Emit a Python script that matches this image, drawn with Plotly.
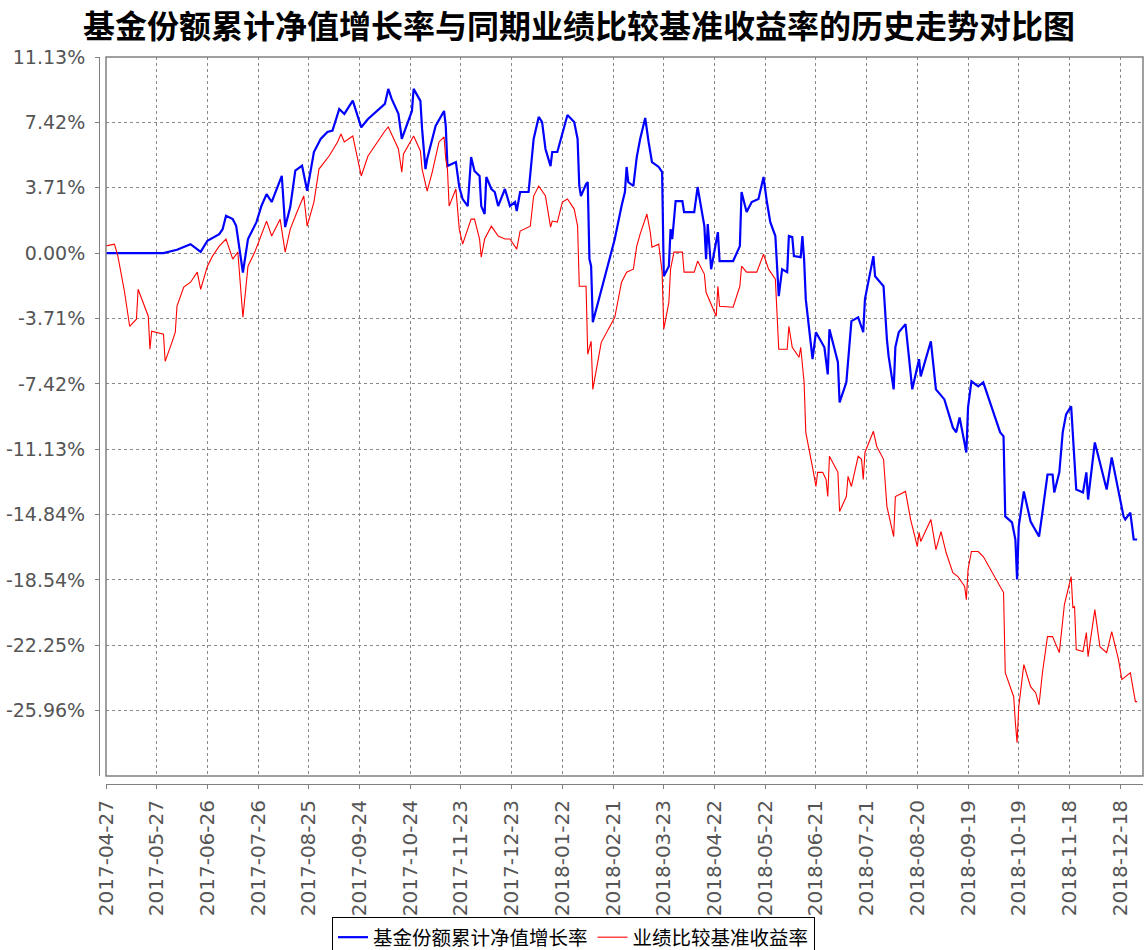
import plotly.graph_objects as go

title_text = "基金份额累计净值增长率与同期业绩比较基准收益率的历史走势对比图"
fund_name = "基金份额累计净值增长率"
bench_name = "业绩比较基准收益率"

fund_dates = [
    "2017-04-27", "2017-05-11", "2017-05-31", "2017-06-08", "2017-06-16", "2017-06-22", "2017-06-26",
    "2017-07-03", "2017-07-05", "2017-07-07", "2017-07-11", "2017-07-13", "2017-07-17", "2017-07-20",
    "2017-07-25", "2017-07-28", "2017-07-31", "2017-08-03", "2017-08-07", "2017-08-09", "2017-08-11",
    "2017-08-14", "2017-08-17", "2017-08-21", "2017-08-24", "2017-08-28", "2017-09-01", "2017-09-05",
    "2017-09-08", "2017-09-12", "2017-09-15", "2017-09-18", "2017-09-20", "2017-09-25", "2017-09-29",
    "2017-10-09", "2017-10-11", "2017-10-13", "2017-10-17", "2017-10-19", "2017-10-23", "2017-10-25",
    "2017-10-26", "2017-10-30", "2017-10-31", "2017-11-02", "2017-11-03", "2017-11-08", "2017-11-13",
    "2017-11-14", "2017-11-15", "2017-11-20", "2017-11-22", "2017-11-24", "2017-11-27", "2017-11-29",
    "2017-12-01", "2017-12-04", "2017-12-05", "2017-12-07", "2017-12-08", "2017-12-11", "2017-12-13",
    "2017-12-15", "2017-12-19", "2017-12-22", "2017-12-25", "2017-12-26", "2017-12-28", "2018-01-02",
    "2018-01-05", "2018-01-08", "2018-01-10", "2018-01-12", "2018-01-15", "2018-01-16", "2018-01-19",
    "2018-01-22", "2018-01-25", "2018-01-29", "2018-01-31", "2018-02-01", "2018-02-02", "2018-02-05",
    "2018-02-06", "2018-02-07", "2018-02-08", "2018-02-09", "2018-02-22", "2018-02-26", "2018-02-28",
    "2018-03-01", "2018-03-02", "2018-03-05", "2018-03-07", "2018-03-09", "2018-03-12", "2018-03-14",
    "2018-03-16", "2018-03-20", "2018-03-22", "2018-03-23", "2018-03-26", "2018-03-27", "2018-03-28",
    "2018-03-30", "2018-04-03", "2018-04-04", "2018-04-10", "2018-04-12", "2018-04-16", "2018-04-17",
    "2018-04-18", "2018-04-20", "2018-04-24", "2018-04-25", "2018-05-03", "2018-05-07", "2018-05-08",
    "2018-05-11", "2018-05-14", "2018-05-18", "2018-05-21", "2018-05-23", "2018-05-25", "2018-05-28",
    "2018-05-30", "2018-06-01", "2018-06-04", "2018-06-05", "2018-06-07", "2018-06-08", "2018-06-12",
    "2018-06-13", "2018-06-14", "2018-06-15", "2018-06-19", "2018-06-21", "2018-06-26", "2018-06-28",
    "2018-06-29", "2018-07-04", "2018-07-05", "2018-07-09", "2018-07-11", "2018-07-12", "2018-07-16",
    "2018-07-19", "2018-07-20", "2018-07-25", "2018-07-26", "2018-07-31", "2018-08-02", "2018-08-03",
    "2018-08-06", "2018-08-07", "2018-08-09", "2018-08-13", "2018-08-17", "2018-08-21", "2018-08-22",
    "2018-08-28", "2018-08-31", "2018-09-05", "2018-09-10", "2018-09-12", "2018-09-14", "2018-09-17",
    "2018-09-18", "2018-09-19", "2018-09-21", "2018-09-25", "2018-09-28", "2018-10-08", "2018-10-10",
    "2018-10-11", "2018-10-15", "2018-10-17", "2018-10-18", "2018-10-19", "2018-10-22", "2018-10-26",
    "2018-10-31", "2018-11-02", "2018-11-05", "2018-11-08", "2018-11-09", "2018-11-12", "2018-11-14",
    "2018-11-16", "2018-11-19", "2018-11-20", "2018-11-22", "2018-11-26", "2018-11-28", "2018-11-29",
    "2018-12-03", "2018-12-06", "2018-12-10", "2018-12-13", "2018-12-17", "2018-12-20", "2018-12-21",
    "2018-12-24", "2018-12-26", "2018-12-28",
]
fund_values = [
    0.00, 0.00, 0.00, 0.19, 0.51, 0.07, 0.70,
    1.08, 1.36, 2.12, 1.93, 1.55, -1.10, 0.80,
    1.76, 2.69, 3.35, 2.90, 3.82, 4.39, 1.48,
    2.61, 4.68, 4.96, 3.54, 5.74, 6.48, 6.88,
    6.95, 8.18, 7.90, 8.37, 8.65, 7.14, 7.61,
    8.47, 9.32, 8.75, 7.90, 6.48, 7.61, 8.07,
    9.32, 8.64, 7.05, 4.77, 5.34, 7.22, 8.07,
    7.22, 4.94, 5.17, 3.75, 3.07, 2.67, 5.45,
    4.66, 4.38, 2.67, 2.22, 4.32, 3.64, 3.47,
    2.67, 3.64, 2.67, 2.90, 2.39, 3.47, 3.47,
    6.48, 7.73, 7.44, 5.91, 4.94, 5.74, 5.74,
    6.76, 7.84, 7.44, 6.48, 3.81, 3.24, 3.92,
    4.03, -0.34, -0.74, -3.92, 0.80, 2.67, 3.47,
    4.89, 4.03, 3.81, 5.45, 6.48, 7.67, 6.31,
    5.17, 4.89, 4.60, -1.31, -0.74, 1.36, 0.80,
    2.95, 2.95, 2.33, 2.33, 3.75, 1.53, -0.34,
    1.65, -0.91, 1.19, -0.45, -0.45, 0.40, 3.47,
    2.33, 2.90, 3.07, 4.32, 2.90, 1.76, 0.97,
    -2.44, -0.91, -1.08, 0.97, 0.91, -0.17, -0.23,
    0.97, -0.34, -2.61, -6.02, -4.49, -5.34, -6.88,
    -4.32, -6.19, -8.47, -7.33, -4.89, -3.86, -3.64,
    -4.49, -2.61, -0.17, -1.31, -1.88, -4.89, -5.85,
    -7.73, -5.34, -4.49, -4.03, -7.73, -6.02, -6.99,
    -5.00, -7.73, -8.30, -9.89, -10.17, -9.32, -10.97,
    -11.31, -8.75, -7.27, -7.56, -7.33, -10.17, -10.40,
    -14.94, -15.28, -16.25, -18.52, -15.51, -13.52, -15.23,
    -16.08, -14.72, -12.56, -12.56, -13.58, -12.44, -10.17,
    -9.15, -8.69, -10.28, -13.41, -13.58, -12.44, -13.98,
    -10.74, -11.88, -13.41, -11.59, -13.41, -14.94, -15.11,
    -14.72, -16.25, -16.25,
]

bench_dates = [
    "2017-04-27", "2017-05-02", "2017-05-04", "2017-05-08", "2017-05-11", "2017-05-15", "2017-05-16",
    "2017-05-22", "2017-05-23", "2017-05-24", "2017-05-31", "2017-06-01", "2017-06-05", "2017-06-07",
    "2017-06-08", "2017-06-12", "2017-06-16", "2017-06-20", "2017-06-22", "2017-06-26", "2017-06-29",
    "2017-07-03", "2017-07-07", "2017-07-11", "2017-07-14", "2017-07-17", "2017-07-20", "2017-07-24",
    "2017-07-27", "2017-07-31", "2017-08-03", "2017-08-08", "2017-08-11", "2017-08-14", "2017-08-18",
    "2017-08-22", "2017-08-24", "2017-08-28", "2017-08-31", "2017-09-06", "2017-09-11", "2017-09-13",
    "2017-09-15", "2017-09-20", "2017-09-25", "2017-09-29", "2017-10-09", "2017-10-11", "2017-10-17",
    "2017-10-19", "2017-10-20", "2017-10-26", "2017-10-30", "2017-10-31", "2017-11-03", "2017-11-06",
    "2017-11-10", "2017-11-13", "2017-11-14", "2017-11-15", "2017-11-16", "2017-11-20", "2017-11-22",
    "2017-11-24", "2017-11-29", "2017-12-01", "2017-12-04", "2017-12-05", "2017-12-07", "2017-12-11",
    "2017-12-15", "2017-12-19", "2017-12-22", "2017-12-26", "2017-12-28", "2018-01-03", "2018-01-05",
    "2018-01-08", "2018-01-12", "2018-01-15", "2018-01-16", "2018-01-19", "2018-01-22", "2018-01-25",
    "2018-01-29", "2018-01-31", "2018-02-01", "2018-02-05", "2018-02-06", "2018-02-08", "2018-02-09",
    "2018-02-12", "2018-02-14", "2018-02-22", "2018-02-26", "2018-03-01", "2018-03-05", "2018-03-07",
    "2018-03-09", "2018-03-13", "2018-03-15", "2018-03-16", "2018-03-20", "2018-03-22", "2018-03-23",
    "2018-03-26", "2018-03-27", "2018-03-29", "2018-04-03", "2018-04-04", "2018-04-10", "2018-04-12",
    "2018-04-16", "2018-04-17", "2018-04-23", "2018-04-24", "2018-04-25", "2018-05-03", "2018-05-07",
    "2018-05-08", "2018-05-11", "2018-05-17", "2018-05-21", "2018-05-24", "2018-05-28", "2018-05-30",
    "2018-06-01", "2018-06-04", "2018-06-05", "2018-06-07", "2018-06-11", "2018-06-12", "2018-06-14",
    "2018-06-15", "2018-06-19", "2018-06-21", "2018-06-22", "2018-06-25", "2018-06-27", "2018-06-28",
    "2018-06-29", "2018-07-04", "2018-07-05", "2018-07-09", "2018-07-10", "2018-07-12", "2018-07-16",
    "2018-07-18", "2018-07-19", "2018-07-20", "2018-07-25", "2018-07-27", "2018-07-31", "2018-08-02",
    "2018-08-06", "2018-08-07", "2018-08-13", "2018-08-16", "2018-08-20", "2018-08-21", "2018-08-22",
    "2018-08-28", "2018-08-31", "2018-09-03", "2018-09-06", "2018-09-10", "2018-09-13", "2018-09-17",
    "2018-09-18", "2018-09-19", "2018-09-21", "2018-09-25", "2018-09-28", "2018-10-08", "2018-10-10",
    "2018-10-11", "2018-10-16", "2018-10-17", "2018-10-18", "2018-10-19", "2018-10-22", "2018-10-26",
    "2018-10-29", "2018-10-31", "2018-11-02", "2018-11-05", "2018-11-08", "2018-11-12", "2018-11-15",
    "2018-11-19", "2018-11-20", "2018-11-21", "2018-11-22", "2018-11-26", "2018-11-28", "2018-11-29",
    "2018-12-03", "2018-12-06", "2018-12-10", "2018-12-13", "2018-12-17", "2018-12-19", "2018-12-24",
    "2018-12-27", "2018-12-28",
]
bench_values = [
    0.41, 0.51, -0.15, -2.22, -4.15, -3.75, -2.05,
    -3.58, -5.45, -4.43, -4.60, -6.14, -5.06, -4.49,
    -3.01, -1.93, -1.65, -1.08, -2.05, -0.74, -0.17,
    0.40, 0.80, -0.34, 0.06, -3.64, -0.74, 0.06,
    0.80, 1.82, 0.97, 1.93, 0.06, 1.36, 2.33,
    3.24, 1.53, 2.90, 4.77, 5.51, 6.31, 6.76,
    6.31, 6.65, 4.38, 5.51, 6.93, 7.16, 5.91,
    4.60, 5.63, 6.65, 5.80, 4.77, 3.52, 4.60,
    6.31, 6.59, 5.34, 4.77, 2.67, 3.64, 1.36,
    0.51, 1.93, 1.93, 0.80, -0.23, 0.80, 1.53,
    0.97, 0.80, 0.80, 0.23, 1.25, 1.53, 3.24,
    3.81, 3.24, 1.48, 1.82, 1.76, 2.90, 3.07,
    2.50, 1.53, -1.88, -1.88, -5.74, -5.00, -7.73,
    -6.02, -5.06, -3.64, -1.65, -1.08, -0.91, 0.40,
    1.08, 2.22, 1.19, 0.34, 0.51, -1.08, -4.32,
    -2.78, -0.91, 0.06, 0.06, -1.08, -1.08, -0.45,
    -1.19, -2.22, -3.58, -1.88, -3.01, -3.07, -1.88,
    -0.74, -1.08, -1.08, -0.06, -0.91, -1.48, -5.45,
    -5.45, -5.45, -4.15, -5.34, -5.91, -5.34, -7.33,
    -10.17, -12.16, -13.24, -12.44, -12.44, -12.84, -13.81,
    -11.53, -12.44, -14.66, -13.81, -12.67, -13.24, -11.53,
    -11.70, -12.84, -11.31, -10.11, -10.97, -11.70, -14.38,
    -16.08, -13.81, -13.52, -15.11, -16.65, -15.85, -16.36,
    -15.11, -16.82, -15.80, -16.99, -18.13, -18.35, -18.92,
    -19.66, -17.95, -16.93, -16.93, -17.22, -18.92, -19.26,
    -23.81, -25.17, -26.65, -27.78, -25.74, -23.35, -24.60,
    -24.94, -25.63, -23.81, -21.76, -21.76, -22.67, -19.94,
    -18.35, -20.11, -20.06, -22.50, -22.61, -21.53, -22.90,
    -20.23, -22.33, -22.67, -21.48, -23.07, -24.20, -23.81,
    -25.45, -25.45,
]

x_tick_dates = [
    "2017-04-27", "2017-05-27", "2017-06-26", "2017-07-26", "2017-08-25", "2017-09-24", "2017-10-24",
    "2017-11-23", "2017-12-23", "2018-01-22", "2018-02-21", "2018-03-23", "2018-04-22", "2018-05-22",
    "2018-06-21", "2018-07-21", "2018-08-20", "2018-09-19", "2018-10-19", "2018-11-18", "2018-12-18",
]
y_tick_values = [11.13, 7.42, 3.71, 0.0, -3.71, -7.42, -11.13, -14.84, -18.54, -22.25, -25.96]
y_tick_labels = ["11.13%", "7.42%", "3.71%", "0.00%", "-3.71%", "-7.42%", "-11.13%",
                 "-14.84%", "-18.54%", "-22.25%", "-25.96%"]

W, H = 1146, 950
ML, MR, MT, MB = 99, 3, 57, 166
plot_w = W - ML - MR
plot_h = H - MT - MB

fig = go.Figure()
fig.add_trace(go.Scatter(x=fund_dates, y=fund_values, mode="lines", name=fund_name,
                         line=dict(color="#0000ff", width=2.2)))
fig.add_trace(go.Scatter(x=bench_dates, y=bench_values, mode="lines", name=bench_name,
                         line=dict(color="#ff0000", width=1.1)))

grid = dict(showgrid=True, gridcolor="#8a8a8a", gridwidth=1, griddash="3px,3px")

fig.update_layout(
    width=W, height=H,
    margin=dict(l=ML, r=MR, t=MT, b=MB, pad=0, autoexpand=False),
    paper_bgcolor="white", plot_bgcolor="white",
    title=dict(text="<b>" + title_text + "</b>", x=579 / W, xanchor="center", xref="container",
               y=1 - 27 / H, yanchor="middle", yref="container", automargin=False,
               font=dict(family="Noto Sans CJK SC", size=32, color="#000000")),
    xaxis=dict(type="date", range=["2017-04-27", "2018-12-31 12:00"],
               domain=[7 / plot_w, 1], anchor="free", position=0, automargin=False,
               tickmode="array", tickvals=x_tick_dates, ticktext=x_tick_dates,
               tickangle=-90, ticks="outside", ticklen=4, tickcolor="#808080",
               ticklabelstandoff=3,
               showline=True, linecolor="#808080", linewidth=1,
               tickfont=dict(family="DejaVu Sans", size=20, color="#555555"),
               zeroline=False, **grid),
    yaxis=dict(range=[-29.67, 11.13], domain=[8 / plot_h, 1], anchor="free", position=0,
               automargin=False,
               tickmode="array", tickvals=y_tick_values, ticktext=y_tick_labels,
               ticks="outside", ticklen=4, tickcolor="#808080",
               ticklabelstandoff=6,
               showline=True, linecolor="#808080", linewidth=1,
               tickfont=dict(family="DejaVu Sans", size=19, color="#555555"),
               zeroline=False, **grid),
    showlegend=True,
    legend=dict(orientation="h", xref="container", yref="container",
                x=332 / W, xanchor="left", y=1 - 917 / H, yanchor="top",
                bordercolor="#000000", borderwidth=1, bgcolor="white",
                itemwidth=30, tracegroupgap=0,
                font=dict(family="Noto Sans CJK SC", size=19.5, color="#000000")),
    shapes=[dict(type="rect", xref="x domain", yref="y domain", x0=0, x1=1, y0=0, y1=1,
                 line=dict(color="#808080", width=1.5), layer="above")],
)

fig.write_html("out.html", config={"displayModeBar": False},
               post_script="document.body.style.margin='0';document.body.style.overflow='hidden';")
